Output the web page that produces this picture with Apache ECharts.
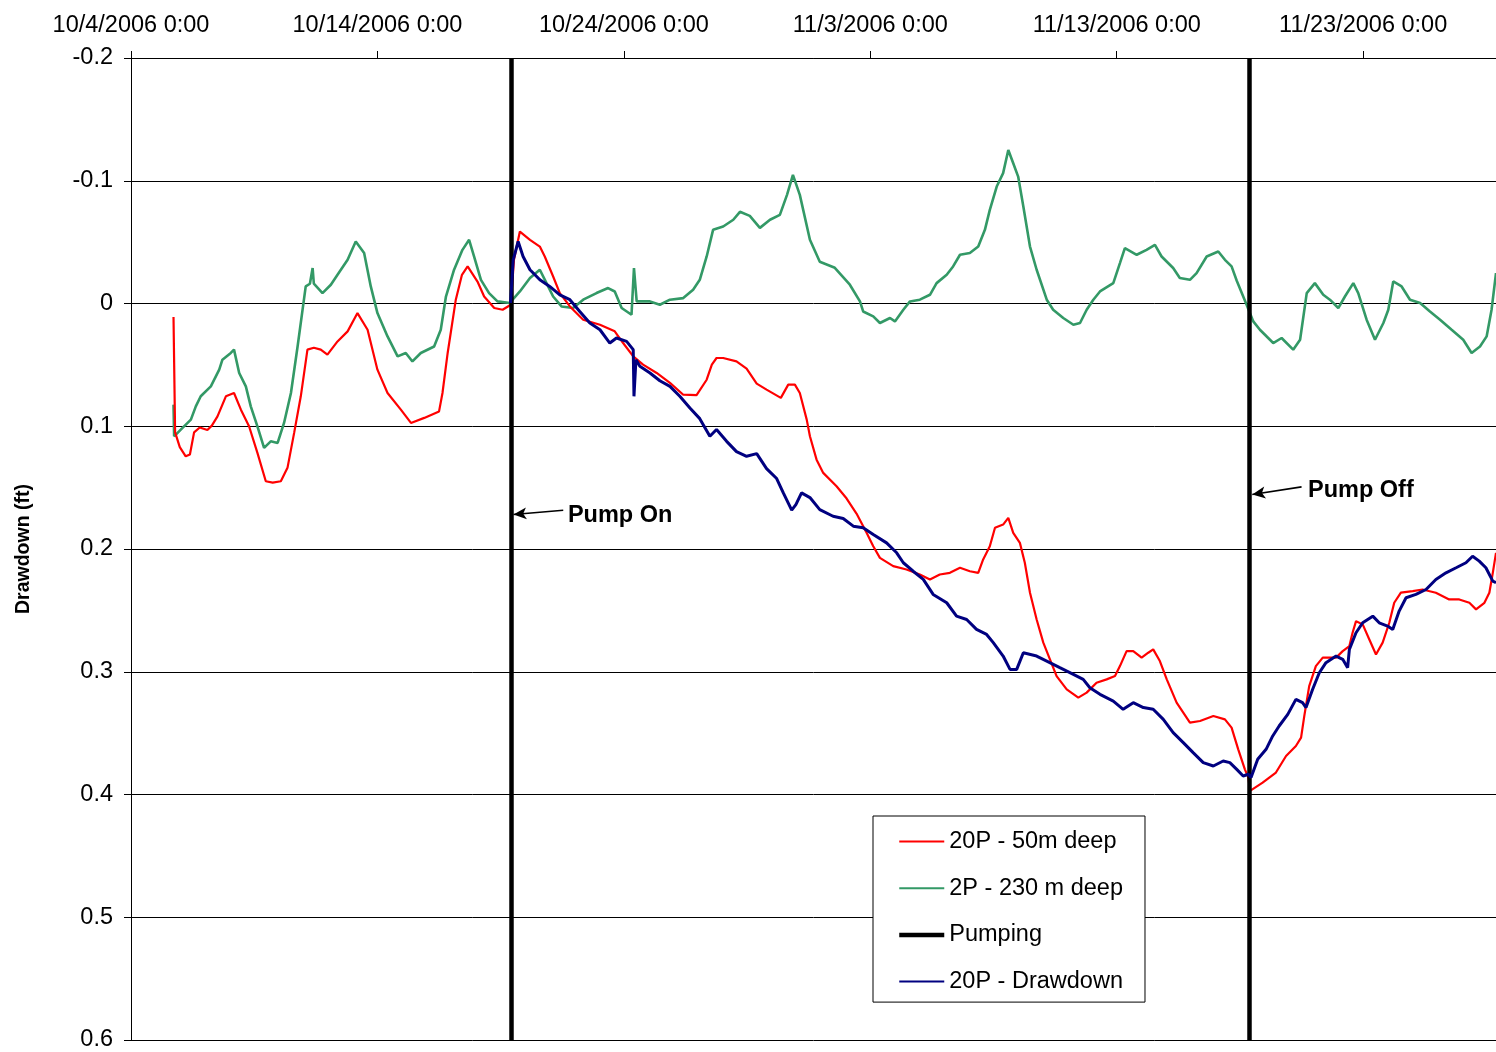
<!DOCTYPE html>
<html>
<head>
<meta charset="utf-8">
<title>Drawdown</title>
<script src="https://cdn.jsdelivr.net/npm/echarts@6/dist/echarts.min.js"></script>
<style>
  html, body { margin: 0; padding: 0; background: #fff; }
  #chart { width: 1496px; height: 1052px; }
</style>
</head>
<body>
<div id="chart"></div>
<script>
// Time is in days since 10/4/2006 0:00, drawdown in feet (positive = down).
const START_UTC = Date.UTC(2006, 9, 4);
const X_MAX_DAYS = 55.39;
const Y_TICKS = [-0.2, -0.1, 0, 0.1, 0.2, 0.3, 0.4, 0.5, 0.6];

const PUMP_ON = 15.42;   // 10/19/2006 ~10:00
const PUMP_OFF = 45.39;  // 11/18/2006 ~9:20

// 20P - 50m deep
const shallow20P = [
  [1.725, 0.011], [1.79, 0.105], [1.98, 0.117], [2.22, 0.1245], [2.39, 0.123], [2.56, 0.105],
  [2.79, 0.101], [3.10, 0.103], [3.28, 0.0995], [3.51, 0.092], [3.85, 0.0756], [4.18, 0.0729],
  [4.46, 0.0865], [4.79, 0.100], [5.13, 0.1217], [5.47, 0.1448], [5.75, 0.1459], [6.08, 0.1448],
  [6.35, 0.1339], [6.62, 0.1054], [6.89, 0.0756], [7.16, 0.0376], [7.42, 0.036], [7.70, 0.0376],
  [7.97, 0.0417], [8.38, 0.0309], [8.79, 0.0227], [9.19, 0.0078], [9.60, 0.0214], [10.00, 0.0539],
  [10.41, 0.0729], [10.95, 0.0865], [11.36, 0.0973], [11.90, 0.0932], [12.50, 0.0879], [12.64, 0.0729],
  [12.85, 0.0403], [13.18, -0.0031], [13.43, -0.0234], [13.66, -0.0302], [14.06, -0.0179], [14.33, -0.0057],
  [14.74, 0.0037], [15.08, 0.0051], [15.41, 0.001], [15.54, -0.0356], [15.78, -0.0586], [16.19, -0.0519],
  [16.59, -0.0464], [16.79, -0.0383], [17.13, -0.022], [17.40, -0.0085], [17.81, 0.0024], [18.35, 0.0132],
  [19.03, 0.0173], [19.63, 0.0227], [19.97, 0.0322], [20.38, 0.0431], [20.78, 0.0498], [21.33, 0.0566],
  [21.87, 0.0647], [22.41, 0.0743], [22.95, 0.0747], [23.36, 0.0621], [23.57, 0.0498], [23.76, 0.0444],
  [24.03, 0.0444], [24.57, 0.0472], [24.98, 0.0531], [25.39, 0.0653], [25.79, 0.0702], [26.37, 0.0769],
  [26.67, 0.0661], [26.94, 0.0661], [27.14, 0.0729], [27.42, 0.0946], [27.55, 0.1082], [27.82, 0.1272],
  [28.09, 0.138], [28.63, 0.1489], [29.04, 0.1589], [29.44, 0.1711], [29.85, 0.1868], [30.12, 0.1977],
  [30.39, 0.2072], [30.93, 0.214], [31.47, 0.2167], [32.01, 0.2208], [32.42, 0.2248], [32.82, 0.2208],
  [33.23, 0.2194], [33.64, 0.2153], [34.04, 0.2181], [34.38, 0.2194], [34.58, 0.2085], [34.85, 0.1977],
  [35.06, 0.1827], [35.39, 0.1801], [35.60, 0.1746], [35.80, 0.1868], [36.07, 0.195], [36.27, 0.2112],
  [36.48, 0.2356], [36.75, 0.2574], [37.02, 0.2763], [37.29, 0.2899], [37.56, 0.3035], [37.97, 0.3143],
  [38.44, 0.3211], [38.78, 0.317], [39.18, 0.3089], [39.59, 0.3062], [39.93, 0.3035], [40.13, 0.2954],
  [40.40, 0.2832], [40.67, 0.2832], [41.01, 0.2885], [41.28, 0.2845], [41.48, 0.2818], [41.75, 0.2913],
  [42.03, 0.3062], [42.43, 0.3252], [42.97, 0.3414], [43.38, 0.3401], [43.92, 0.3361], [44.39, 0.3388],
  [44.66, 0.3455], [44.93, 0.3632], [45.20, 0.3795], [45.34, 0.3862], [45.41, 0.3971], [45.92, 0.3903],
  [46.46, 0.3821], [46.87, 0.3686], [47.27, 0.3605], [47.48, 0.3537], [47.61, 0.3361], [47.81, 0.3117],
  [48.08, 0.2954], [48.36, 0.2885], [48.90, 0.2885], [49.17, 0.2832], [49.44, 0.2791], [49.57, 0.2682],
  [49.71, 0.2588], [49.98, 0.2614], [50.25, 0.2737], [50.52, 0.2859], [50.79, 0.2763], [51.06, 0.2601],
  [51.26, 0.2438], [51.53, 0.2356], [52.01, 0.2343], [52.41, 0.233], [52.95, 0.2356], [53.49, 0.2411],
  [53.90, 0.2411], [54.31, 0.2438], [54.58, 0.2492], [54.92, 0.2438], [55.12, 0.2356], [55.26, 0.2194],
  [55.39, 0.2031]
];

// 2P - 230 m deep
const deep2P = [
  [1.725, 0.0824], [1.75, 0.1082], [2.02, 0.1027], [2.43, 0.0946], [2.63, 0.0838], [2.83, 0.0756],
  [3.24, 0.0675], [3.58, 0.0539], [3.71, 0.0458], [4.05, 0.0403], [4.18, 0.0376], [4.39, 0.0566],
  [4.66, 0.0675], [4.86, 0.0838], [5.13, 0.1001], [5.40, 0.1176], [5.67, 0.1123], [5.95, 0.1136],
  [6.21, 0.0973], [6.49, 0.0729], [6.76, 0.035], [7.09, -0.0139], [7.26, -0.0161], [7.37, -0.0289],
  [7.42, -0.0161], [7.77, -0.0085], [8.11, -0.0153], [8.38, -0.0234], [8.79, -0.0356], [9.12, -0.0505],
  [9.46, -0.0411], [9.73, -0.0139], [10.00, 0.0078], [10.41, 0.0268], [10.82, 0.0431], [11.15, 0.0403],
  [11.42, 0.0472], [11.76, 0.0403], [12.30, 0.035], [12.57, 0.0214], [12.78, -0.0057], [13.11, -0.0275],
  [13.45, -0.0437], [13.72, -0.0519], [13.92, -0.0383], [14.20, -0.0193], [14.53, -0.0085], [14.87, -0.0017],
  [15.37, -0.0004], [15.78, -0.0098], [16.19, -0.0207], [16.59, -0.0275], [16.86, -0.0166], [17.13, -0.0057],
  [17.47, 0.0024], [17.94, 0.0037], [18.35, -0.0031], [18.89, -0.0085], [19.36, -0.0126], [19.63, -0.0098],
  [19.91, 0.0037], [20.31, 0.0092], [20.41, -0.0289], [20.52, -0.0017], [21.06, -0.0017], [21.46, 0.001],
  [21.87, -0.0031], [22.41, -0.0044], [22.81, -0.0112], [23.08, -0.0193], [23.36, -0.0383], [23.62, -0.06],
  [24.03, -0.0627], [24.44, -0.0682], [24.71, -0.0747], [25.11, -0.0714], [25.52, -0.0616], [25.93, -0.0682],
  [26.33, -0.0722], [26.62, -0.0885], [26.86, -0.1048], [27.14, -0.0885], [27.55, -0.0519], [27.95, -0.034],
  [28.56, -0.0291], [29.17, -0.0153], [29.58, -0.0017], [29.71, 0.0065], [30.12, 0.0105], [30.39, 0.0159],
  [30.80, 0.0118], [31.00, 0.0146], [31.34, 0.0051], [31.61, -0.0017], [32.01, -0.0031], [32.42, -0.0071],
  [32.69, -0.0166], [33.10, -0.0234], [33.36, -0.0302], [33.64, -0.0397], [34.04, -0.0411], [34.38, -0.0464],
  [34.65, -0.06], [34.85, -0.0763], [35.13, -0.0953], [35.39, -0.1062], [35.60, -0.1251], [35.80, -0.1143],
  [36.00, -0.1034], [36.21, -0.079], [36.48, -0.0464], [36.75, -0.0275], [37.16, -0.0031], [37.42, 0.0051],
  [37.83, 0.0118], [38.24, 0.0173], [38.51, 0.0159], [38.78, 0.0051], [39.05, -0.0031], [39.32, -0.0098],
  [39.86, -0.0166], [40.13, -0.0329], [40.33, -0.0451], [40.81, -0.0397], [41.21, -0.0437], [41.55, -0.0478],
  [41.82, -0.0383], [42.29, -0.0289], [42.56, -0.0207], [42.97, -0.0193], [43.24, -0.0248], [43.65, -0.0383],
  [44.12, -0.0424], [44.39, -0.0356], [44.66, -0.0302], [44.87, -0.0185], [45.27, 0.001], [45.54, 0.0146],
  [45.81, 0.0214], [46.35, 0.0322], [46.69, 0.0281], [47.16, 0.0376], [47.44, 0.0295], [47.71, -0.0085],
  [48.04, -0.0166], [48.38, -0.0071], [48.65, -0.0031], [48.99, 0.0037], [49.26, -0.0057], [49.60, -0.0166],
  [49.80, -0.0085], [50.14, 0.0132], [50.48, 0.0295], [50.82, 0.0159], [51.02, 0.0051], [51.22, -0.018],
  [51.56, -0.0139], [51.90, -0.0031], [52.31, -0.0004], [52.71, 0.0065], [53.12, 0.0132], [53.59, 0.0214],
  [54.06, 0.0295], [54.40, 0.0403], [54.74, 0.035], [55.01, 0.0268], [55.21, 0.0051], [55.39, -0.0248]
];

// 20P - Drawdown (from pump start)
const drawdown20P = [
  [15.40, -0.0004], [15.51, -0.0356], [15.71, -0.0505], [15.91, -0.0383], [16.19, -0.0275], [16.59, -0.0193],
  [16.99, -0.0139], [17.40, -0.0071], [17.81, -0.0031], [18.21, 0.0065], [18.62, 0.0159], [19.03, 0.0214],
  [19.43, 0.0322], [19.70, 0.0281], [20.11, 0.0309], [20.38, 0.0376], [20.41, 0.0756], [20.49, 0.0458],
  [20.65, 0.0512], [21.06, 0.0566], [21.46, 0.0629], [21.87, 0.0675], [22.27, 0.0756], [22.68, 0.0851],
  [23.08, 0.0938], [23.49, 0.1082], [23.76, 0.1027], [24.17, 0.1123], [24.57, 0.1207], [24.98, 0.1245],
  [25.39, 0.1223], [25.79, 0.1345], [26.20, 0.1426], [26.47, 0.1543], [26.81, 0.1683], [26.98, 0.1638],
  [27.21, 0.1543], [27.55, 0.1581], [27.95, 0.1679], [28.49, 0.1733], [28.90, 0.1752], [29.31, 0.1814],
  [29.71, 0.1827], [30.12, 0.1882], [30.66, 0.195], [31.07, 0.2031], [31.34, 0.2112], [31.74, 0.2181],
  [32.15, 0.2248], [32.55, 0.237], [33.10, 0.2438], [33.50, 0.2547], [33.91, 0.2574], [34.31, 0.2655],
  [34.72, 0.2696], [34.99, 0.2763], [35.39, 0.2872], [35.67, 0.2981], [35.94, 0.2981], [36.21, 0.2845],
  [36.75, 0.2872], [37.16, 0.2913], [37.69, 0.2967], [38.24, 0.3021], [38.64, 0.3062], [38.91, 0.313],
  [39.32, 0.3184], [39.86, 0.3239], [40.26, 0.3306], [40.67, 0.3252], [41.08, 0.3292], [41.48, 0.3306],
  [41.89, 0.3388], [42.29, 0.3496], [42.70, 0.3577], [43.10, 0.3659], [43.51, 0.374], [43.92, 0.3768],
  [44.32, 0.3727], [44.59, 0.374], [44.87, 0.3795], [45.13, 0.3849], [45.34, 0.3835], [45.45, 0.3862],
  [45.72, 0.3713], [46.06, 0.3632], [46.33, 0.3523], [46.59, 0.3442], [46.94, 0.3347], [47.27, 0.3225],
  [47.54, 0.3252], [47.68, 0.3292], [47.95, 0.3143], [48.22, 0.3008], [48.49, 0.2926], [48.90, 0.2872],
  [49.17, 0.2899], [49.37, 0.2967], [49.44, 0.2818], [49.71, 0.2682], [49.98, 0.2601], [50.39, 0.2547],
  [50.65, 0.2601], [50.99, 0.2628], [51.20, 0.2655], [51.46, 0.2506], [51.74, 0.2397], [52.14, 0.237],
  [52.55, 0.233], [52.95, 0.2248], [53.36, 0.2194], [53.77, 0.2153], [54.17, 0.2112], [54.44, 0.2059],
  [54.71, 0.2099], [54.98, 0.2153], [55.26, 0.2262], [55.39, 0.2275]
];

// Callouts for pump start / stop: arrow tail, arrow head, text anchor (left-middle)
const pumpOnNote = { text: 'Pump On', tail: [17.54, 0.1684], head: [15.52, 0.1719], anchor: [17.73, 0.1727] };
const pumpOffNote = { text: 'Pump Off', tail: [47.50, 0.1494], head: [45.50, 0.1556], anchor: [47.76, 0.1524] };

const FONT = "'Liberation Sans', Arial, sans-serif";

function dayLabel(v) {
  const r = Math.round(v);
  if (Math.abs(v - r) > 1e-6 || r % 10 !== 0) return '';
  const d = new Date(START_UTC + r * 86400000);
  return (d.getUTCMonth() + 1) + '/' + d.getUTCDate() + '/' + d.getUTCFullYear() + ' 0:00';
}

function arrow(note) {
  return [
    { coord: note.tail, symbol: 'none', lineStyle: { color: '#000', width: 1.6, type: 'solid' } },
    { coord: note.head, symbol: 'arrow', symbolSize: [9, 13] }
  ];
}

function noteLabel(note) {
  return {
    coord: note.anchor,
    symbol: 'circle',
    symbolSize: 0,
    label: {
      show: true, formatter: note.text, position: 'right', distance: 0,
      color: '#000', fontFamily: FONT, fontSize: 23.5, fontWeight: 'bold'
    }
  };
}

const chart = echarts.init(document.getElementById('chart'), null, { renderer: 'canvas' });

chart.setOption({
  animation: false,
  backgroundColor: '#fff',
  grid: { left: 131, right: 0, top: 58, bottom: 11, containLabel: false },
  legend: {
    orient: 'vertical',
    left: 873, top: 816,
    padding: [12.5, 22, 7.5, 24],
    backgroundColor: '#fff',
    borderColor: '#000', borderWidth: 1,
    itemWidth: 45, itemHeight: 14, itemGap: 20.7,
    // line-only keys: hide the marker that line series add to their legend icon
    itemStyle: { opacity: 0 },
    textStyle: { color: '#000', fontFamily: FONT, fontSize: 23.5, lineHeight: 26 },
    data: [
      { name: '20P - 50m deep' },
      { name: '2P - 230 m deep' },
      { name: 'Pumping', lineStyle: { width: 4.5 } },
      { name: '20P - Drawdown' }
    ]
  },
  xAxis: {
    type: 'value',
    position: 'top',
    min: 0, max: X_MAX_DAYS, interval: 10,
    axisLine: { show: true, onZero: false, lineStyle: { color: '#000', width: 1 } },
    axisTick: { show: true, inside: false, length: 7, lineStyle: { color: '#000' } },
    axisLabel: {
      show: true, margin: 20, color: '#000', fontFamily: FONT, fontSize: 23.5,
      showMaxLabel: false, formatter: dayLabel
    },
    splitLine: { show: false }
  },
  yAxis: {
    type: 'value',
    inverse: true,
    min: Y_TICKS[0], max: Y_TICKS[Y_TICKS.length - 1], interval: 0.1,
    name: 'Drawdown (ft)',
    nameLocation: 'middle',
    nameGap: 97,
    nameTextStyle: { color: '#000', fontFamily: FONT, fontSize: 19.5, fontWeight: 'bold' },
    axisLine: { show: true, onZero: false, lineStyle: { color: '#000', width: 1 } },
    axisTick: { show: true, inside: false, length: 7, lineStyle: { color: '#000' } },
    axisLabel: {
      margin: 18, color: '#000', fontFamily: FONT, fontSize: 23.5,
      formatter: v => String(Math.round(v * 10) / 10)
    },
    splitLine: { show: true, lineStyle: { color: '#000', width: 1 } }
  },
  series: [
    {
      name: '20P - 50m deep', type: 'line', data: shallow20P,
      symbol: 'none', showSymbol: false, smooth: false,
      color: '#FF0000', lineStyle: { color: '#FF0000', width: 2.2 }, z: 3
    },
    {
      name: '2P - 230 m deep', type: 'line', data: deep2P,
      symbol: 'none', showSymbol: false, smooth: false,
      color: '#339966', lineStyle: { color: '#339966', width: 2.6 }, z: 2
    },
    {
      name: 'Pumping', type: 'line', data: [],
      symbol: 'none', color: '#000', lineStyle: { color: '#000', width: 4.5 }, z: 4,
      markLine: {
        silent: true, symbol: ['none', 'none'], precision: 4,
        label: { show: false },
        lineStyle: { color: '#000', width: 4.5, type: 'solid' },
        emphasis: { disabled: true },
        data: [
          { xAxis: PUMP_ON },
          { xAxis: PUMP_OFF },
          arrow(pumpOnNote),
          arrow(pumpOffNote)
        ]
      },
      markPoint: {
        silent: true,
        data: [noteLabel(pumpOnNote), noteLabel(pumpOffNote)]
      }
    },
    {
      name: '20P - Drawdown', type: 'line', data: drawdown20P,
      symbol: 'none', showSymbol: false, smooth: false,
      color: '#000080', lineStyle: { color: '#000080', width: 3 }, z: 5
    }
  ]
});
</script>
</body>
</html>
